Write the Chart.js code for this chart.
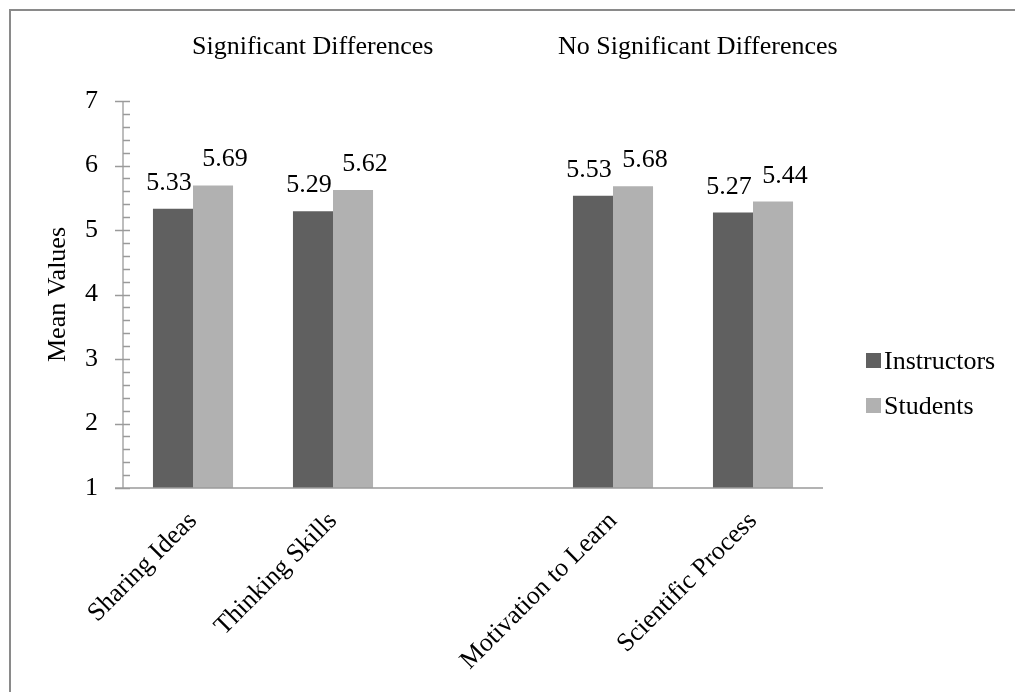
<!DOCTYPE html>
<html>
<head>
<meta charset="utf-8">
<script src="https://cdn.jsdelivr.net/npm/chart.js@4"></script>
<style>
  html, body { margin: 0; padding: 0; background: #fff; }
  canvas { display: block; }
</style>
</head>
<body>
<canvas id="chart" width="1015" height="692"></canvas>
<script>
// Mean ratings by category; the empty slot separates the two groups
const categories = ['Sharing Ideas', 'Thinking Skills', '', 'Motivation to Learn', 'Scientific Process'];
const instructors = [5.33, 5.29, null, 5.53, 5.27];
const students = [5.69, 5.62, null, 5.68, 5.44];
const seriesNames = ['Instructors', 'Students'];
const groupHeadings = ['Significant Differences', 'No Significant Differences'];
const yMin = 1, yMax = 7, yStep = 1, yMinorStep = 0.2;

const FONT = "'Liberation Serif', 'Times New Roman', serif";
const AXIS_COLOR = '#9a9a9a';

// Frame, axis lines, tick marks (major crossing the axis, minor inside)
const axesPlugin = {
  id: 'axesPlugin',
  beforeDraw(chart) {
    const ctx = chart.ctx;
    ctx.save();
    ctx.fillStyle = '#fff';
    ctx.fillRect(0, 0, chart.width, chart.height);
    ctx.strokeStyle = '#8a8a8a';
    ctx.lineWidth = 2;
    ctx.strokeRect(10, 10, chart.width + 50, chart.height + 50);
    ctx.restore();
  },
  afterDatasetsDraw(chart) {
    const ctx = chart.ctx;
    const { left, right, top, bottom } = chart.chartArea;
    const y = chart.scales.y;
    ctx.save();
    ctx.strokeStyle = AXIS_COLOR;
    ctx.lineWidth = 1.3;
    ctx.beginPath();
    ctx.moveTo(left, top);
    ctx.lineTo(left, bottom);
    ctx.moveTo(left - 8, bottom);
    ctx.lineTo(right, bottom);
    const n = Math.round((yMax - yMin) / yMinorStep);
    for (let i = 0; i <= n; i++) {
      const v = yMin + i * yMinorStep;
      const py = Math.round(y.getPixelForValue(v)) + 0.5;
      const major = Math.abs(v - Math.round(v)) < 1e-6;
      ctx.moveTo(major ? left - 8 : left, py);
      ctx.lineTo(left + 7, py);
    }
    ctx.stroke();
    ctx.restore();
  },
  afterDraw(chart) {
    const ctx = chart.ctx;
    ctx.save();
    ctx.font = '26px ' + FONT;
    ctx.fillStyle = '#000';
    ctx.textBaseline = 'alphabetic';
    // group headings
    ctx.textAlign = 'left';
    ctx.fillText(groupHeadings[0], 192, 54);
    ctx.fillText(groupHeadings[1], 558, 54);

    // value labels above bars
    ctx.textAlign = 'center';
    const shifts = [-4, 12];
    chart.data.datasets.forEach((ds, di) => {
      const meta = chart.getDatasetMeta(di);
      meta.data.forEach((bar, i) => {
        const v = ds.data[i];
        if (v === null || v === undefined) return;
        ctx.fillText(v.toFixed(2), bar.x + shifts[di], bar.y - 19);
      });
    });

    // legend
    ctx.textAlign = 'left';
    chart.data.datasets.forEach((ds, di) => {
      const base = 369 + di * 45;
      ctx.fillStyle = ds.backgroundColor;
      ctx.fillRect(866, base - 16, 15, 15);
      ctx.fillStyle = '#000';
      ctx.fillText(ds.label, 884, base);
    });
    ctx.restore();
  }
};

new Chart(document.getElementById('chart'), {
  type: 'bar',
  data: {
    labels: categories,
    datasets: [
      { label: seriesNames[0], data: instructors, backgroundColor: '#606060' },
      { label: seriesNames[1], data: students, backgroundColor: '#b1b1b1' }
    ]
  },
  options: {
    responsive: false,
    devicePixelRatio: 1,
    animation: false,
    layout: { padding: { left: 0, top: 101, right: 192, bottom: 0 } },
    plugins: {
      legend: { display: false },
      tooltip: { enabled: false }
    },
    datasets: {
      bar: { barPercentage: 1.0, categoryPercentage: 0.572, borderWidth: 0 }
    },
    scales: {
      x: {
        grid: { display: false, drawTicks: false },
        border: { display: false },
        ticks: {
          color: '#000',
          font: { family: FONT, size: 26 },
          minRotation: 45,
          maxRotation: 45,
          autoSkip: false,
          padding: 18
        },
        afterFit(scale) { scale.height = 204; }
      },
      y: {
        min: yMin,
        max: yMax,
        grid: { display: false, drawTicks: false },
        border: { display: false },
        ticks: {
          stepSize: yStep,
          color: '#000',
          font: { family: FONT, size: 26 },
          padding: 25
        },
        title: {
          display: true,
          text: 'Mean Values',
          color: '#000',
          font: { family: FONT, size: 26 },
          padding: { top: 43, bottom: 0 }
        },
        afterFit(scale) { scale.width = 123; }
      }
    }
  },
  plugins: [axesPlugin]
});
</script>
</body>
</html>
